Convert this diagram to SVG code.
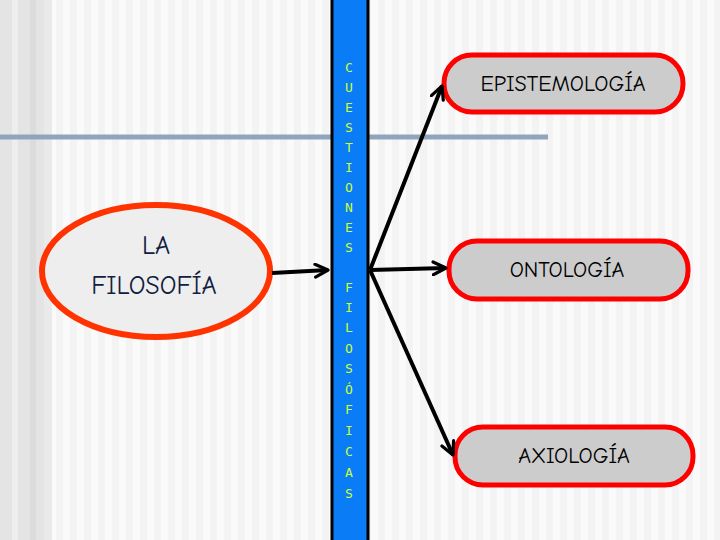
<svg xmlns="http://www.w3.org/2000/svg" width="720" height="540" viewBox="0 0 720 540">
<defs>
<pattern id="stripes" x="0" y="0" width="14" height="540" patternUnits="userSpaceOnUse">
<rect width="14" height="540" fill="#f3f3f3"/><rect x="7" width="7" height="540" fill="#fafafa"/>
</pattern>
<marker id="ah" viewBox="0 0 10 10" refX="9" refY="5" markerWidth="4" markerHeight="4" orient="auto" markerUnits="strokeWidth">
<path d="M1,1 L9,5 L1,9" fill="none" stroke="#000" stroke-width="2" stroke-linecap="round" stroke-linejoin="round"/>
</marker>
<style>
.box{fill:#cccccc;stroke:#ff0000;stroke-width:5}
.lbl{font-family:"Comic Neue","DejaVu Sans",sans-serif;font-size:22px;fill:#000;text-anchor:middle}
.v{font-family:"DejaVu Sans Mono",monospace;font-size:13px;fill:#ccff33;text-anchor:middle}
.con{stroke:#000;stroke-width:4;fill:none;marker-end:url(#ah)}
</style>
</defs>
<rect width="720" height="540" fill="url(#stripes)"/>
<rect x="0" width="52" height="540" fill="#e4e4e4"/>
<rect x="12" width="6" height="540" fill="#eeeeee"/>
<rect x="30" width="6" height="540" fill="#dcdcdc"/>
<rect x="44" width="8" height="540" fill="#eaeaea"/>
<line x1="0" y1="137" x2="548" y2="137" stroke="#8fa5bd" stroke-width="5"/>
<g id="bar">
<rect x="332" y="-2" width="36" height="544" fill="#0a7cf5" stroke="#000" stroke-width="3"/>
<text class="v" x="349" y="72">C</text><text class="v" x="349" y="92">U</text><text class="v" x="349" y="112">E</text><text class="v" x="349" y="132">S</text><text class="v" x="349" y="152">T</text><text class="v" x="349" y="172">I</text><text class="v" x="349" y="192">O</text><text class="v" x="349" y="212">N</text><text class="v" x="349" y="232">E</text><text class="v" x="349" y="252">S</text>
<text class="v" x="349" y="292">F</text><text class="v" x="349" y="312">I</text><text class="v" x="349" y="332">L</text><text class="v" x="349" y="353">O</text><text class="v" x="349" y="373">S</text><text class="v" x="349" y="394">Ó</text><text class="v" x="349" y="414">F</text><text class="v" x="349" y="435">I</text><text class="v" x="349" y="456">C</text><text class="v" x="349" y="477">A</text><text class="v" x="349" y="498">S</text>
</g>
<g id="filosofia">
<ellipse cx="156" cy="271" rx="114" ry="66" fill="#eeeeee" stroke="#ff3300" stroke-width="6"/>
<text class="lbl" x="156" y="254" font-size="26" fill="#1a2a40" style="font-size:26px;fill:#102040">LA</text>
<text class="lbl" x="154" y="294" style="font-size:26px;fill:#102040">FILOSOFÍA</text>
</g>
<g id="epistemologia"><rect class="box" x="444" y="55" width="239" height="57" rx="28"/><text class="lbl" x="563" y="91">EPISTEMOLOGÍA</text></g>
<g id="ontologia"><rect class="box" x="449" y="241" width="239" height="58" rx="28"/><text class="lbl" x="567" y="277">ONTOLOGÍA</text></g>
<g id="axiologia"><rect class="box" x="455" y="427" width="238" height="58" rx="28"/><text class="lbl" x="574" y="463">AXIOLOGÍA</text></g>
<g id="connectors">
<line class="con" x1="272" y1="273" x2="328" y2="270"/>
<line class="con" x1="370" y1="270" x2="442" y2="86"/>
<line class="con" x1="370" y1="270" x2="446" y2="268"/>
<line class="con" x1="370" y1="270" x2="453" y2="455"/>
</g>
</svg>
